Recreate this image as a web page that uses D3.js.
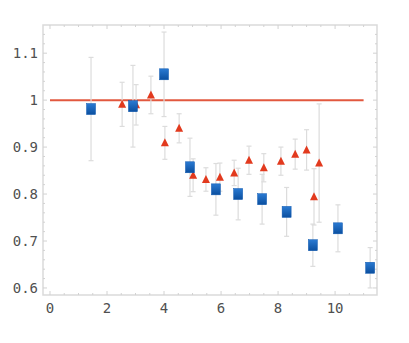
<!DOCTYPE html>
<html>
<head>
<meta charset="utf-8">
<script src="https://cdn.jsdelivr.net/npm/d3@7"></script>
<style>
  body { margin: 0; background: #fff; }
  svg { display: block; }
</style>
</head>
<body>
<div id="chart"></div>
<script>
// blue squares
const sqX = [1.44, 2.91, 4.0, 4.91, 5.82, 6.6, 7.44, 8.3, 9.22, 10.1, 11.23];
const sqY = [0.981, 0.987, 1.055, 0.857, 0.81, 0.80, 0.789, 0.762, 0.691, 0.727, 0.643];
const sqErr = [0.11, 0.087, 0.09, 0.062, 0.055, 0.055, 0.053, 0.052, 0.045, 0.05, 0.043];

// red triangles
const triX = [2.53, 3.02, 3.54, 4.03, 4.53, 5.02, 5.47, 5.96, 6.46, 6.98, 7.5, 8.1, 8.6, 9.0, 9.26, 9.44];
const triY = [0.991, 0.99, 1.011, 0.909, 0.94, 0.84, 0.831, 0.836, 0.845, 0.872, 0.856, 0.87, 0.885, 0.894, 0.794, 0.866];
const triErr = [0.047, 0.043, 0.04, 0.035, 0.031, 0.035, 0.025, 0.03, 0.027, 0.03, 0.03, 0.03, 0.032, 0.043, 0.06, 0.126];

// reference line
const refLine = [[0, 1], [11, 1]];

const xTicks = [0, 2, 4, 6, 8, 10];
const yTicks = [0.6, 0.7, 0.8, 0.9, 1, 1.1];
const yTickLabels = ['0.6', '0.7', '0.8', '0.9', '1', '1.1'];

let width = 409,
    height = 343;

let mLeft = 43, mRight = 377, mTop = 25, mBottom = 295;

let x = d3.scaleLinear().domain([-0.245, 11.47]).range([mLeft, mRight]);
let y = d3.scaleLinear().domain([0.585, 1.16]).range([mBottom, mTop]);

let svg = d3.select('#chart').append('svg')
  .attr('width', width)
  .attr('height', height);

let defs = svg.append('defs');
let grad = defs.append('linearGradient')
  .attr('id', 'sqgrad')
  .attr('x1', 0).attr('y1', 0).attr('x2', 0).attr('y2', 1);
grad.append('stop').attr('offset', '0%').attr('stop-color', '#2a7ad2');
grad.append('stop').attr('offset', '100%').attr('stop-color', '#0b4f9f');

// frame
svg.append('rect')
  .attr('x', mLeft).attr('y', mTop)
  .attr('width', mRight - mLeft).attr('height', mBottom - mTop)
  .attr('fill', 'none')
  .attr('stroke', '#dadada')
  .attr('stroke-width', 1.5);

// ticks, all four sides, pointing inward
let tickG = svg.append('g').attr('stroke', '#d2d2d2').attr('stroke-width', 1);
let xMinor = d3.range(0, 11.01, 0.5);
let yMinor = d3.range(0.6, 1.16, 0.02);

xMinor.forEach(function(v) {
  let len = (Math.abs(v % 2) < 1e-6) ? 4 : 2;
  tickG.append('line').attr('x1', x(v)).attr('x2', x(v)).attr('y1', mBottom).attr('y2', mBottom - len);
  tickG.append('line').attr('x1', x(v)).attr('x2', x(v)).attr('y1', mTop).attr('y2', mTop + len);
});
yMinor.forEach(function(v) {
  let major = yTicks.some(function(t) { return Math.abs(t - v) < 1e-6; });
  let len = major ? 4 : 2;
  tickG.append('line').attr('x1', mLeft).attr('x2', mLeft + len).attr('y1', y(v)).attr('y2', y(v));
  tickG.append('line').attr('x1', mRight).attr('x2', mRight - len).attr('y1', y(v)).attr('y2', y(v));
});

// tick labels
svg.append('g').selectAll('text')
  .data(xTicks)
  .enter().append('text')
    .attr('x', function(d) { return x(d); })
    .attr('y', 313)
    .attr('text-anchor', 'middle')
    .style('font-family', 'DejaVu Sans Mono')
    .style('font-size', '14px')
    .style('fill', '#505050')
    .text(function(d) { return d; });

svg.append('g').selectAll('text')
  .data(yTicks)
  .enter().append('text')
    .attr('x', 38)
    .attr('y', function(d) { return y(d); })
    .attr('dy', '0.35em')
    .attr('text-anchor', 'end')
    .style('font-family', 'DejaVu Sans Mono')
    .style('font-size', '14px')
    .style('fill', '#505050')
    .text(function(d, i) { return yTickLabels[i]; });

// reference line
svg.append('path')
  .attr('d', d3.line().x(function(d) { return x(d[0]); }).y(function(d) { return y(d[1]); })(refLine))
  .attr('stroke', '#e2583f')
  .attr('stroke-width', 2)
  .attr('fill', 'none');

let squares = sqX.map(function(v, i) { return { x: v, y: sqY[i], e: sqErr[i] }; });
let tris = triX.map(function(v, i) { return { x: v, y: triY[i], e: triErr[i] }; });

function errorBars(data) {
  let g = svg.append('g').attr('stroke', '#dcdcdc').attr('stroke-width', 1.2);
  data.forEach(function(d) {
    let cx = x(d.x), y0 = y(d.y - d.e), y1 = y(d.y + d.e);
    g.append('line').attr('x1', cx).attr('x2', cx).attr('y1', y0).attr('y2', y1);
    g.append('line').attr('x1', cx - 2.5).attr('x2', cx + 2.5).attr('y1', y0).attr('y2', y0);
    g.append('line').attr('x1', cx - 2.5).attr('x2', cx + 2.5).attr('y1', y1).attr('y2', y1);
  });
}

errorBars(squares);
errorBars(tris);

// triangles
svg.append('g').selectAll('path')
  .data(tris)
  .enter().append('path')
    .attr('d', function(d) {
      let cx = x(d.x), cy = y(d.y);
      return 'M' + (cx - 4) + ',' + (cy + 3.5) + 'L' + cx + ',' + (cy - 4.5) + 'L' + (cx + 4) + ',' + (cy + 3.5) + 'Z';
    })
    .style('fill', '#e23a1e');

// squares
svg.append('g').selectAll('rect')
  .data(squares)
  .enter().append('rect')
    .attr('x', function(d) { return x(d.x) - 4.5; })
    .attr('y', function(d) { return y(d.y) - 5.5; })
    .attr('width', 9)
    .attr('height', 11)
    .style('fill', 'url(#sqgrad)')
    .style('stroke', '#0b57b0')
    .style('stroke-width', 0.5);
</script>
</body>
</html>
